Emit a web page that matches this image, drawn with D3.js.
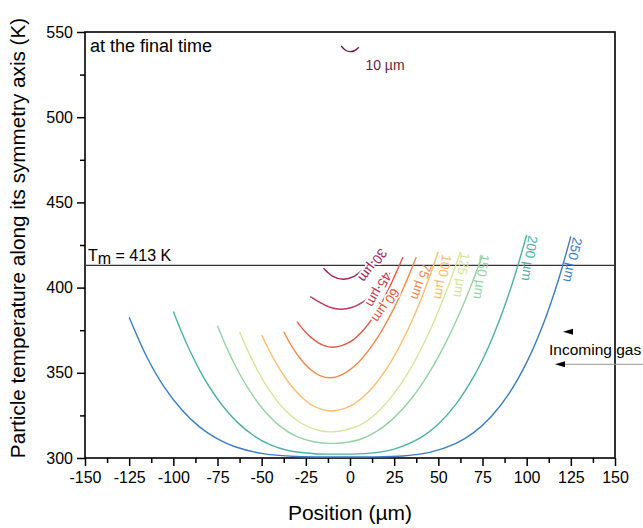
<!DOCTYPE html>
<html>
<head>
<meta charset="utf-8">
<script src="https://d3js.org/d3.v7.min.js"></script>
<style>
body { margin: 0; background: #fff; }
text { font-family: "Liberation Sans", Arial, sans-serif; }
</style>
</head>
<body>
<svg id="chart" width="643" height="528"></svg>
<script>
// particle diameters (µm) and their colours
var diameters = [10, 30, 45, 60, 75, 100, 125, 150, 200, 250];
var colors = ["#6b1d40", "#a1245c", "#c83a57", "#e35a44", "#f5894b", "#fdbe6e", "#d3e89c", "#96d3a4", "#4db2a2", "#3b7dc4"];

// temperature profiles: position (µm) and temperature (K)
var pos10 = [-5, -2.5, 0, 2.5, 5];
var temp10 = [541.8, 539.3, 538.5, 539, 541];
var pos30 = [-15, -10, -3.8, 2, 8, 12, 15];
var temp30 = [411.3, 406.8, 404.9, 406.4, 411.2, 414.5, 417.5];
var pos45 = [-22.5, -17, -11, -5, 1, 7, 13, 18, 22.5];
var temp45 = [394.7, 391.3, 388.3, 387.3, 388.3, 391.3, 396.4, 402.1, 408.5];
var pos60 = [-30, -25, -20, -15, -9.4, 0, 8, 15, 22, 30];
var temp60 = [380, 373.6, 369, 366.1, 365, 368.1, 375.6, 385.8, 399.5, 418];
var pos75 = [-37.5, -33, -28, -22, -17, -11.3, -5, 5, 15, 25, 31, 37.5];
var temp75 = [374.1, 365.6, 358.1, 351.6, 348.4, 347.1, 348.7, 356.4, 369.7, 388.1, 401.5, 418];
var pos100 = [-50, -45, -40, -33, -26, -19, -10.4, 0, 10, 20, 30, 40, 50];
var temp100 = [372.2, 361.6, 352.5, 342.1, 334.5, 329.7, 327.6, 330.4, 338.3, 351.3, 369.4, 392.6, 421];
var pos125 = [-62.5, -58, -52, -45, -37, -28, -18, -9.4, 5, 15, 25, 35, 45, 55, 62.5];
var temp125 = [374.1, 363.3, 350.7, 338.8, 328.4, 320.7, 316.3, 315.4, 319, 326.3, 337.9, 353.8, 374.2, 399.2, 421];
var pos150 = [-75, -70, -65, -58, -50, -40, -30, -20, -9, 5, 15, 25, 35, 45, 55, 65, 75];
var temp150 = [377.6, 365.2, 354.3, 341.4, 329.6, 319, 312.5, 309.4, 308.6, 310.7, 315.6, 323.7, 335.2, 350.4, 369.3, 392.1, 419];
var pos200 = [-100, -95, -90, -85, -80, -72, -64, -55, -45, -35, -20, -8, 10, 25, 40, 50, 60, 70, 78, 86, 93, 100];
var temp200 = [386, 373.1, 361.6, 351.3, 342.4, 330.5, 321.2, 313.5, 307.7, 304.4, 302.5, 302.3, 302.7, 305.2, 311.9, 319.9, 331.6, 347.7, 364.3, 384.8, 406.1, 430.9];
var pos250 = [-125, -115, -105, -95, -85, -75, -65, -50, -30, -10, 10, 30, 45, 60, 70, 80, 90, 100, 110, 118, 125];
var temp250 = [382.6, 359.3, 341.4, 328, 318.1, 311.2, 306.6, 302.7, 300.9, 300.6, 300.6, 301.2, 303.3, 308.6, 314.9, 324.4, 337.8, 356.1, 380.3, 404.6, 430.1];

var positions = [pos10, pos30, pos45, pos60, pos75, pos100, pos125, pos150, pos200, pos250];
var temps = [temp10, temp30, temp45, temp60, temp75, temp100, temp125, temp150, temp200, temp250];

// where each curve label sits (data units) and its angle
var labelPos = [[19.8, 530.6], [19.4, 421.9], [21.7, 408.4], [26.4, 398.6], [40.5, 415.2],
                [51.3, 420.1], [61.7, 421.1], [72.6, 420.1], [99.9, 430.9], [125.2, 430.1]];
var labelAngle = [0, 127, 120, 125, 110, 101, 99.5, 99, 99, 103];

var xTicks = d3.range(-150, 151, 25);
var yTicks = d3.range(300, 551, 50);
var meltTemp = 413;

var W = 643, H = 528,
    margin = {top: 32, right: 28, bottom: 70, left: 85},
    w = W - margin.left - margin.right,
    h = H - margin.top - margin.bottom;

var svg = d3.select("#chart");
var g = svg.append("g").attr("transform", "translate(" + margin.left + "," + margin.top + ")");

var x = d3.scaleLinear().domain([-150, 150]).range([0, w]);
var y = d3.scaleLinear().domain([300, 550]).range([h, 0]);

// minor ticks
g.append("g").attr("transform", "translate(0," + h + ")")
  .call(d3.axisBottom(x).tickValues(d3.range(-137.5, 150, 25)).tickSize(5).tickFormat(""))
  .call(function(s) { s.select(".domain").remove(); s.selectAll("line").attr("stroke-width", 1.5); });
g.append("g")
  .call(d3.axisLeft(y).tickValues(d3.range(325, 550, 50)).tickSize(5).tickFormat(""))
  .call(function(s) { s.select(".domain").remove(); s.selectAll("line").attr("stroke-width", 1.5); });

// major ticks (plain hyphen for negatives)
var fmt = function(d) { return String(d); };
var xAxis = g.append("g").attr("transform", "translate(0," + h + ")")
  .call(d3.axisBottom(x).tickValues(xTicks).tickSize(8).tickPadding(6).tickFormat(fmt));
var yAxis = g.append("g")
  .call(d3.axisLeft(y).tickValues(yTicks).tickSize(8).tickPadding(4).tickFormat(fmt));
[xAxis, yAxis].forEach(function(a) {
  a.select(".domain").remove();
  a.selectAll("line").attr("stroke-width", 1.5);
  a.selectAll("text").attr("font-size", 16).attr("fill", "#000")
    .style("font-family", "'Liberation Sans', Arial, sans-serif");
});

// frame
g.append("rect").attr("width", w).attr("height", h)
  .attr("fill", "none").attr("stroke", "#000").attr("stroke-width", 1.6);

// melting line
g.append("line").attr("x1", 0).attr("x2", w)
  .attr("y1", y(meltTemp)).attr("y2", y(meltTemp))
  .attr("stroke", "#333").attr("stroke-width", 1.2);

var tm = g.append("text").attr("x", 3).attr("y", y(meltTemp) - 4).attr("font-size", 16);
tm.append("tspan").text("T");
tm.append("tspan").attr("dy", 3).text("m");
tm.append("tspan").attr("dy", -3).text(" = 413 K");

// curves
var line = d3.line()
  .x(function(d) { return x(d[0]); })
  .y(function(d) { return y(d[1]); })
  .curve(d3.curveCatmullRom.alpha(0.5));

diameters.forEach(function(d, i) {
  var pts = positions[i].map(function(p, j) { return [p, temps[i][j]]; });
  g.append("path").datum(pts)
    .attr("d", line)
    .attr("fill", "none")
    .attr("stroke", colors[i])
    .attr("stroke-width", 1.4);
});

// curve labels
diameters.forEach(function(d, i) {
  var px = x(labelPos[i][0]), py = y(labelPos[i][1]);
  var inline = i > 0 && i < 4;
  g.append("text")
    .attr("transform", "translate(" + px + "," + py + ") rotate(" + labelAngle[i] + ")")
    .attr("text-anchor", i === 0 ? "middle" : "start")
    .attr("dy", inline || i === 0 ? "0.35em" : "-0.15em")
    .attr("font-size", i === 0 ? 14 : 13.5)
    .attr("fill", colors[i])
    .attr("stroke", "#fff").attr("stroke-width", inline ? 3.5 : 0)
    .attr("paint-order", "stroke")
    .text(d + " µm");
});

g.append("text").attr("x", 5).attr("y", 20).attr("font-size", 18).text("at the final time");

// incoming gas annotation
g.append("path").attr("d", "M" + (563 - margin.left) + "," + (331.7 - margin.top) + "l10,-3v6z").attr("fill", "#000");
g.append("line").attr("x1", 560 - margin.left).attr("x2", W - margin.left)
  .attr("y1", 364.3 - margin.top).attr("y2", 364.3 - margin.top)
  .attr("stroke", "#999").attr("stroke-width", 1);
g.append("path").attr("d", "M" + (555 - margin.left) + "," + (364.3 - margin.top) + "l10,-3v6z").attr("fill", "#000");
g.append("text").attr("x", 549 - margin.left).attr("y", 355 - margin.top).attr("font-size", 15.5).text("Incoming gas");

// axis titles
svg.append("text").attr("x", margin.left + w / 2).attr("y", 520)
  .attr("text-anchor", "middle").attr("font-size", 21).text("Position (µm)");
svg.append("text").attr("transform", "translate(25," + 238 + ") rotate(-90)")
  .attr("text-anchor", "middle").attr("font-size", 20.7)
  .text("Particle temperature along its symmetry axis (K)");
</script>
</body>
</html>
